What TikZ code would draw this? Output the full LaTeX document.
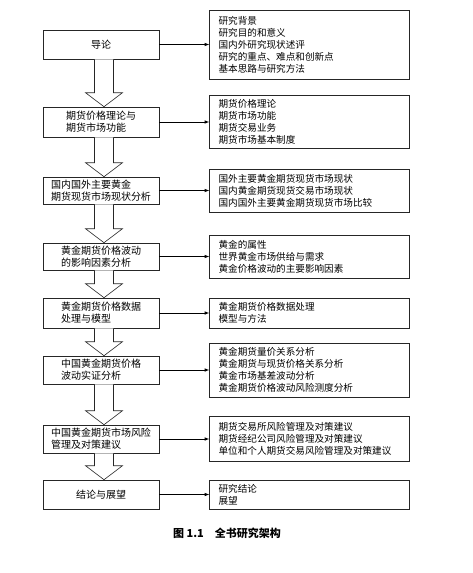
\documentclass[tikz,border=0pt]{standalone}
\usepackage{fontspec}
\setmainfont{Noto Sans CJK SC}
\usetikzlibrary{positioning,calc}
\tikzset{
  chapter/.style={draw=black!85,line width=0.6pt,minimum width=116pt,
    align=left,inner sep=2pt,font=\fontsize{10}{12}\selectfont},
  topics/.style={draw=black!85,line width=0.6pt,text width=182pt,
    inner xsep=9pt,inner ysep=3pt,align=left,
    font=\fontsize{9.6}{12}\selectfont},
  bigarrow/.style={draw=black!85,line width=0.6pt,fill=white},
}
\begin{document}
\begin{tikzpicture}[x=1pt,y=1pt,>=latex,line width=0.6pt]
\useasboundingbox (0,0) rectangle (472,-573);
% chapters on the left
\node[chapter,minimum height=29pt] (c1) at (101,-44.5) {导论};
\node[chapter,minimum height=30pt] (c2) at (101,-122) {期货价格理论与\\期货市场功能};
\node[chapter,minimum height=27pt] (c3) at (101,-190.5) {国内国外主要黄金\\期货现货市场现状分析};
\node[chapter,minimum height=27pt] (c4) at (101,-256.5) {黄金期货价格波动\\的影响因素分析};
\node[chapter,minimum height=30pt] (c5) at (101,-313) {黄金期货价格数据\\处理与模型};
\node[chapter,minimum height=28pt] (c6) at (101,-370) {中国黄金期货价格\\波动实证分析};
\node[chapter,minimum height=28pt] (c7) at (101,-439) {中国黄金期货市场风险\\管理及对策建议};
\node[chapter,minimum height=29pt] (c8) at (101,-494.5) {结论与展望};
% contents on the right
\node[topics,minimum height=69pt,right=50pt of c1] (t1)
  {研究背景\\研究目的和意义\\国内外研究现状述评\\研究的重点、难点和创新点\\基本思路与研究方法};
\node[topics,minimum height=53pt,right=50pt of c2] (t2)
  {期货价格理论\\期货市场功能\\期货交易业务\\期货市场基本制度};
\node[topics,minimum height=43pt,right=50pt of c3] (t3)
  {国外主要黄金期货现货市场现状\\国内黄金期货现货交易市场现状\\国内国外主要黄金期货现货市场比较};
\node[topics,minimum height=43pt,right=50pt of c4] (t4)
  {黄金的属性\\世界黄金市场供给与需求\\黄金价格波动的主要影响因素};
\node[topics,minimum height=30pt,right=50pt of c5] (t5)
  {黄金期货价格数据处理\\模型与方法};
\node[topics,minimum height=54pt,right=50pt of c6] (t6)
  {黄金期货量价关系分析\\黄金期货与现货价格关系分析\\黄金市场基差波动分析\\黄金期货价格波动风险测度分析};
\node[topics,minimum height=45pt,right=50pt of c7] (t7)
  {期货交易所风险管理及对策建议\\期货经纪公司风险管理及对策建议\\单位和个人期货交易风险管理及对策建议};
\node[topics,minimum height=29pt,right=50pt of c8] (t8)
  {研究结论\\展望};
% links
\foreach \i in {1,...,8}
  \draw[->] (c\i.east) -- (t\i.west);
\foreach \a/\b in {c1/c2,c2/c3,c3/c4,c4/c5,c5/c6,c6/c7,c7/c8}
  \draw[bigarrow] ($(\a.south)+(-6.5,0)$) -- ($(\b.north)+(-6.5,14)$)
    -- ($(\b.north)+(-15.5,14)$) -- ($(\b.north)+(3,0)$)
    -- ($(\b.north)+(21.5,14)$) -- ($(\b.north)+(12.5,14)$)
    -- ($(\a.south)+(12.5,0)$);
\node[font=\bfseries\fontsize{11}{13}\selectfont] (fig) at (227,-533) {图 1.1\quad 全书研究架构};
\end{tikzpicture}
\end{document}
